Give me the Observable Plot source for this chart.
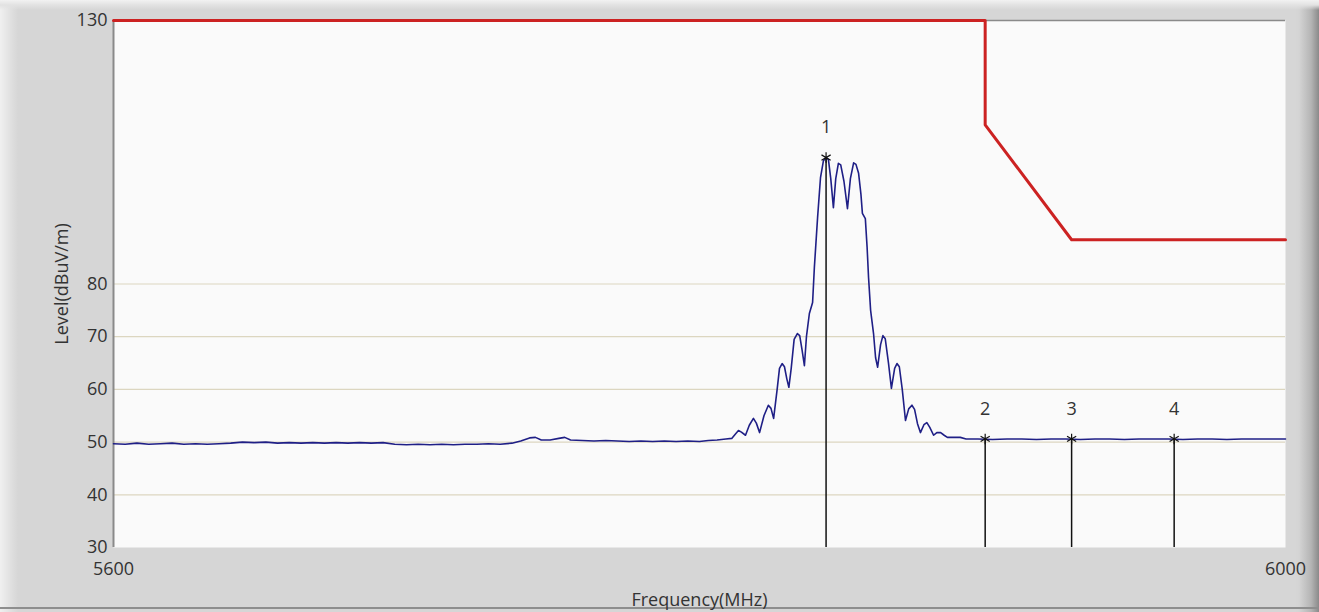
<!DOCTYPE html>
<html><head><meta charset="utf-8">
<script src="https://cdn.jsdelivr.net/npm/d3@7"></script>
<script src="https://cdn.jsdelivr.net/npm/@observablehq/plot@0.6"></script>
<style>
html,body{margin:0;padding:0;background:#d6d6d6;}
#wrap{position:relative;width:1319px;height:612px;overflow:hidden;
 background:
  linear-gradient(to bottom,#f2f2f2 0,#e2e2e2 5px,rgba(214,214,214,0) 10px),
  linear-gradient(to right,#f0f0f0 0,#dedede 12px,rgba(214,214,214,0) 18px),
  linear-gradient(to left,#8a8a8a 0,#b5b5b5 8px,#d4d4d4 20px,rgba(214,214,214,0) 24px),
  #d6d6d6;}
#bottomline{position:absolute;left:0;top:607px;width:1319px;height:2px;background:#8e8e8e;}
#wrap svg{position:absolute;left:0;top:0;}
</style></head>
<body><div id="wrap"><div id="bottomline"></div></div>
<script>
// Spectrum trace (frequency in MHz, level in dBuV/m)
const freq = [
 5600,5604,5608,5612,5616,5620,5624,5628,5632,5636,5640,5644,5648,5652,5656,5660,5664,5668,5672,5676,
 5680,5684,5688,5692,5696,5700,5704,5708,5712,5716,5720,5724,5728,5732,5736,5739,5742,5744,5746,5749,
 5752,5754,5756,5760,5764,5768,5772,5776,5780,5784,5788,5792,5796,5800,5803,5806,5809,5811,5812.2,5813.3,
 5814.3,5815.7,5817,5818.4,5819.4,5820.5,5822,5823.5,5824.4,5825.3,5826.5,5827.3,5828.2,5829,5829.8,5830.5,
 5831.3,5832.3,5833.4,5834.2,5835,5835.8,5836.5,5837.5,5838.6,5839.2,5840.3,5841.3,5842.3,5843.2,5844,5844.8,
 5845.7,5846.5,5847.4,5848.2,5849.3,5850.5,5851.5,5852.6,5853.4,5854.3,5855.1,5855.6,5856.6,5857.2,5857.7,5858.4,
 5859.4,5860.1,5860.8,5861.8,5862.6,5863.4,5864.5,5865.5,5866.6,5867.4,5868.2,5869.2,5870.3,5871.4,5872.5,5873.4,
 5874.4,5875.4,5876.6,5877.6,5878.6,5879.9,5881,5882.3,5883.5,5884.6,5887,5889,5891,5895,5900,5905,5910,5915,
 5920,5925,5930,5935,5940,5945,5950,5955,5960,5965,5970,5975,5980,5985,5990,5995,6000
];
const level = [
 49.7,49.6,49.8,49.6,49.7,49.8,49.6,49.7,49.6,49.7,49.8,50.0,49.9,50.0,49.8,49.9,49.8,49.9,49.8,49.9,
 49.8,49.9,49.8,49.9,49.6,49.5,49.6,49.5,49.6,49.5,49.6,49.6,49.7,49.6,49.8,50.2,50.8,50.9,50.4,50.4,
 50.7,50.9,50.4,50.3,50.2,50.3,50.2,50.1,50.2,50.1,50.2,50.1,50.2,50.1,50.3,50.4,50.6,50.7,51.5,52.2,
 51.9,51.3,53.2,54.5,53.6,51.8,55.0,57.0,56.4,54.5,60.0,64.0,64.9,64.3,62.0,60.4,
 64.0,69.5,70.6,70.2,67.5,64.5,70.0,74.4,76.5,83.1,92.6,100.2,103.4,104.0,103.6,100.0,
 94.5,100.0,102.9,102.6,99.5,94.3,100.0,103.0,102.7,101.0,97.0,93.4,92.4,87.0,81.2,75.0,
 70.6,66.0,64.2,68.5,70.2,69.6,65.0,60.2,64.0,64.9,64.3,60.0,54.1,56.3,57.0,56.2,
 53.5,51.8,53.3,53.7,52.8,51.3,51.8,51.8,51.3,50.9,50.9,50.9,50.6,50.6,50.5,50.6,50.6,50.5,
 50.6,50.6,50.5,50.6,50.6,50.5,50.6,50.6,50.6,50.5,50.6,50.6,50.5,50.6,50.6,50.6,50.6
];
// Limit line
const limitFreq = [5600, 5897.5, 5897.5, 5927, 6000];
const limitLevel = [130, 130, 110.2, 88.4, 88.4];
// Markers
const markerName = ["1","2","3","4"];
const markerFreq = [5843.2, 5897.5, 5927, 5962];
const markerLevel = [104.0, 50.6, 50.6, 50.6];
// Axes
const yTicks = [30,40,50,60,70,80,130];
const gridLevels = [40,50,60,70,80];
const xTicks = [5600,6000];

const trace = freq.map((f,i)=>({f, l: level[i]}));
const limit = limitFreq.map((f,i)=>({f, l: limitLevel[i]}));
const markers = markerName.map((n,i)=>({n, f: markerFreq[i], l: markerLevel[i]}));

const chart = Plot.plot({
  width: 1319, height: 612,
  marginLeft: 113, marginRight: 34, marginTop: 20, marginBottom: 65,
  x: {domain: [5600, 6000]},
  y: {domain: [30, 130]},
  style: {background: "transparent", fontSize: "18px", fontFamily: "'Open Sans', sans-serif", color: "#333", overflow: "visible"},
  marks: [
    Plot.frame({fill: "#fafafa", stroke: "none"}),
    Plot.ruleY(gridLevels, {stroke: "#dcd6c0", strokeWidth: 1.2}),
    Plot.ruleY([130], {stroke: "#8a8a8a", strokeWidth: 1.5}),
    Plot.ruleX([5600], {stroke: "#8a8a8a", strokeWidth: 2}),
    Plot.line(limit, {x: "f", y: "l", stroke: "#cc2222", strokeWidth: 3}),
    Plot.line(trace, {x: "f", y: "l", stroke: "#1f1f86", strokeWidth: 1.6}),
    Plot.ruleX(markers, {x: "f", y1: 30, y2: "l", stroke: "#111", strokeWidth: 1.5}),
    Plot.dot(markers, {x: "f", y: "l", symbol: "asterisk", r: 5, stroke: "#111", strokeWidth: 1.2}),
    Plot.text(markers, {x: "f", y: "l", text: "n", dy: -30, fill: "#333"}),
    Plot.axisY(yTicks, {tickSize: 0, tickPadding: 6, label: null, tickFormat: d => String(d)}),
    Plot.axisX(xTicks, {tickSize: 0, tickPadding: 15, label: null, tickFormat: d => String(d)}),
    Plot.text(["Frequency(MHz)"], {frameAnchor: "bottom", dy: 53, lineAnchor: "middle", textAnchor: "middle", fill: "#333"}),
    Plot.text(["Level(dBuV/m)"], {frameAnchor: "left", dx: -51, rotate: -90, textAnchor: "middle", lineAnchor: "middle", fill: "#333"})
  ]
});
document.getElementById("wrap").appendChild(chart);
</script>
</body></html>
